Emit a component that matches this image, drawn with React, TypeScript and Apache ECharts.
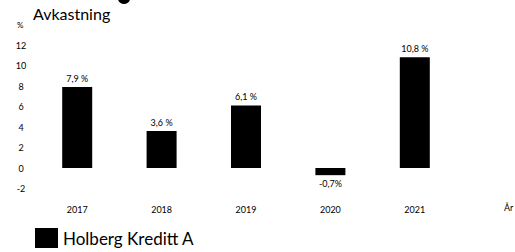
import React, { useEffect, useRef } from "react";
import * as echarts from "echarts";

const categories = ["2017", "2018", "2019", "2020", "2021"];
const returns = [7.9, 3.6, 6.1, -0.7, 10.8];
const seriesName = "Holberg Kreditt A";
const yTicks = { min: -2, max: 12, interval: 2 };

const fmt = (v: number) => {
  const s = String(v).replace(".", ",");
  return v < 0 ? s + "%" : s + " %";
};

export default function App() {
  const ref = useRef<HTMLDivElement>(null);
  useEffect(() => {
    if (!ref.current) return;
    const chart = echarts.init(ref.current, null, { renderer: "svg" });
    const font = "Lato, 'DejaVu Sans', sans-serif";
    chart.setOption({
      animation: false,
      textStyle: { fontFamily: font, color: "#000" },
      title: {
        text: "Avkastning",
        left: 28,
        top: 0,
        textStyle: { fontSize: 16, fontWeight: "normal", color: "#000", fontFamily: font },
      },
      grid: { left: 35, right: 58, top: 45, bottom: 63.5 },
      legend: {
        left: 30,
        top: 223,
        itemWidth: 23,
        itemHeight: 20,
        itemGap: 8,
        textStyle: { fontSize: 17, color: "#000", fontFamily: font },
        data: [{ name: seriesName, icon: "rect" }],
      },
      xAxis: {
        type: "category",
        data: categories,
        axisLine: { show: false },
        axisTick: { show: false },
        axisLabel: { fontSize: 9, color: "#000", margin: 16, fontFamily: font },
      },
      yAxis: {
        type: "value",
        min: yTicks.min,
        max: yTicks.max,
        interval: yTicks.interval,
        splitLine: { show: false },
        axisLine: { show: false },
        axisTick: { show: false },
        axisLabel: { fontSize: 9, color: "#000", margin: 14, align: "center", fontFamily: font },
      },
      graphic: [
        { type: "text", left: 17, top: 21, style: { text: "%", fontSize: 8, fill: "#000", fontFamily: font } },
        { type: "text", left: 504, top: 203, style: { text: "År", fontSize: 9, fill: "#000", fontFamily: font } },
        { type: "ellipse", shape: { cx: 124, cy: -1, rx: 6, ry: 5 }, style: { fill: "#000" } },
      ],
      series: [
        {
          name: seriesName,
          type: "bar",
          barWidth: 30,
          itemStyle: { color: "#000" },
          data: returns.map((v) => ({
            value: v,
            label: {
              show: true,
              position: v < 0 ? "bottom" : "top",
              distance: 4,
              fontSize: 9,
              color: "#000",
              fontFamily: font,
              formatter: () => fmt(v),
            },
          })),
        },
      ],
    });
    return () => chart.dispose();
  }, []);
  return <div ref={ref} style={{ width: 515, height: 252, position: "absolute", left: 0, top: 0 }} />;
}
